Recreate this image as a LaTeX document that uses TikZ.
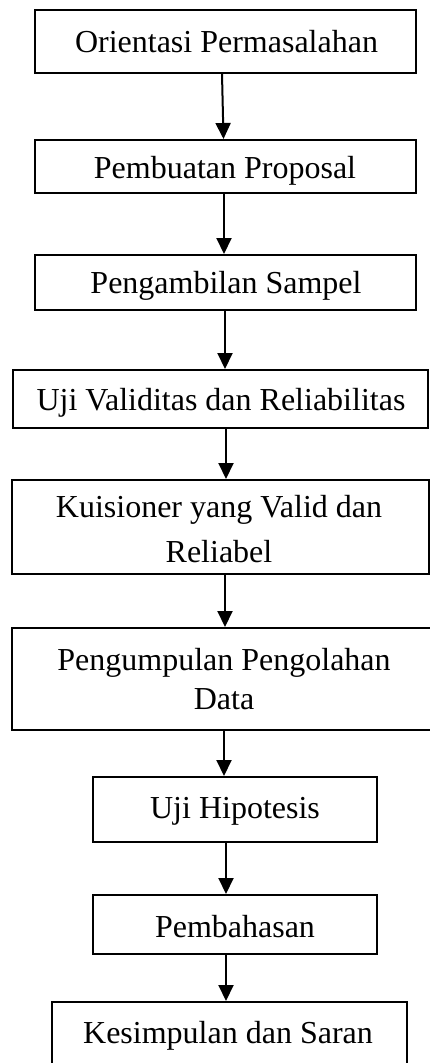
\documentclass[tikz,border=0pt]{standalone}
\usepackage{fontspec}
\setmainfont{Liberation Serif}
\usetikzlibrary{arrows.meta}
\tikzset{
  boxst/.style={draw=black, line width=2pt, rectangle, inner sep=0pt},
  txt/.style={inner sep=0pt, anchor=base, font=\fontsize{32}{38}\selectfont},
  arr/.style={line width=2pt, -{Triangle[width=15pt,length=16pt]}}
}
\begin{document}
\begin{tikzpicture}[x=1pt,y=-1pt]
\useasboundingbox (0,0) rectangle (430,1063);
\clip (0,0) rectangle (430,1063);
% boxes
\node[boxst, minimum width=381pt, minimum height=63pt] (b1) at (225.5,41.5) {};
\node[boxst, minimum width=381pt, minimum height=53pt] (b2) at (225.5,166.5) {};
\node[boxst, minimum width=381pt, minimum height=55pt] (b3) at (225.5,282.5) {};
\node[boxst, minimum width=415pt, minimum height=58pt] (b4) at (220.5,399) {};
\node[boxst, minimum width=417pt, minimum height=94pt] (b5) at (220.5,527) {};
\node[boxst, minimum width=428pt, minimum height=102pt] (b6) at (226,679) {};
\node[boxst, minimum width=284pt, minimum height=65pt] (b7) at (235,809.5) {};
\node[boxst, minimum width=284pt, minimum height=59pt] (b8) at (235,924.5) {};
\node[boxst, minimum width=355pt, minimum height=64pt] (b9) at (229.5,1034) {};
% texts
\node[txt] (t1) at (226.5,52) {Orientasi Permasalahan};
\node[txt] (t2) at (225,178) {Pembuatan Proposal};
\begin{scope}
\clip (0,0) rectangle (430,299);
\node[txt] (t3) at (226,293) {Pengambilan Sampel};
\end{scope}
\node[txt] (t4) at (221,410) {Uji Validitas dan Reliabilitas};
\node[txt] (t5a) at (219,517) {Kuisioner yang Valid dan};
\node[txt] (t5b) at (219,562) {Reliabel};
\node[txt] (t6a) at (224,670) {Pengumpulan Pengolahan};
\node[txt] (t6b) at (224,709) {Data};
\node[txt] (t7) at (235,818) {Uji Hipotesis};
\node[txt] (t8) at (235,937) {Pembahasan};
\node[txt] (t9) at (228,1043) {Kesimpulan dan Saran};
% arrows
\draw[arr] ([xshift=-3.5]b1.south) -- ([xshift=-2]b2.north);
\draw[arr] ([xshift=-1.5]b2.south) -- ([xshift=-1.5]b3.north);
\draw[arr] ([xshift=-0.5]b3.south) -- ([xshift=4.5]b4.north);
\draw[arr] ([xshift=5.5]b4.south) -- ([xshift=5.5]b5.north);
\draw[arr] ([xshift=4.5]b5.south) -- ([xshift=-1]b6.north);
\draw[arr] ([xshift=-2]b6.south) -- ([xshift=-11]b7.north);
\draw[arr] ([xshift=-9]b7.south) -- ([xshift=-9]b8.north);
\draw[arr] ([xshift=-9]b8.south) -- ([xshift=-3.5]b9.north);
\end{tikzpicture}
\end{document}
